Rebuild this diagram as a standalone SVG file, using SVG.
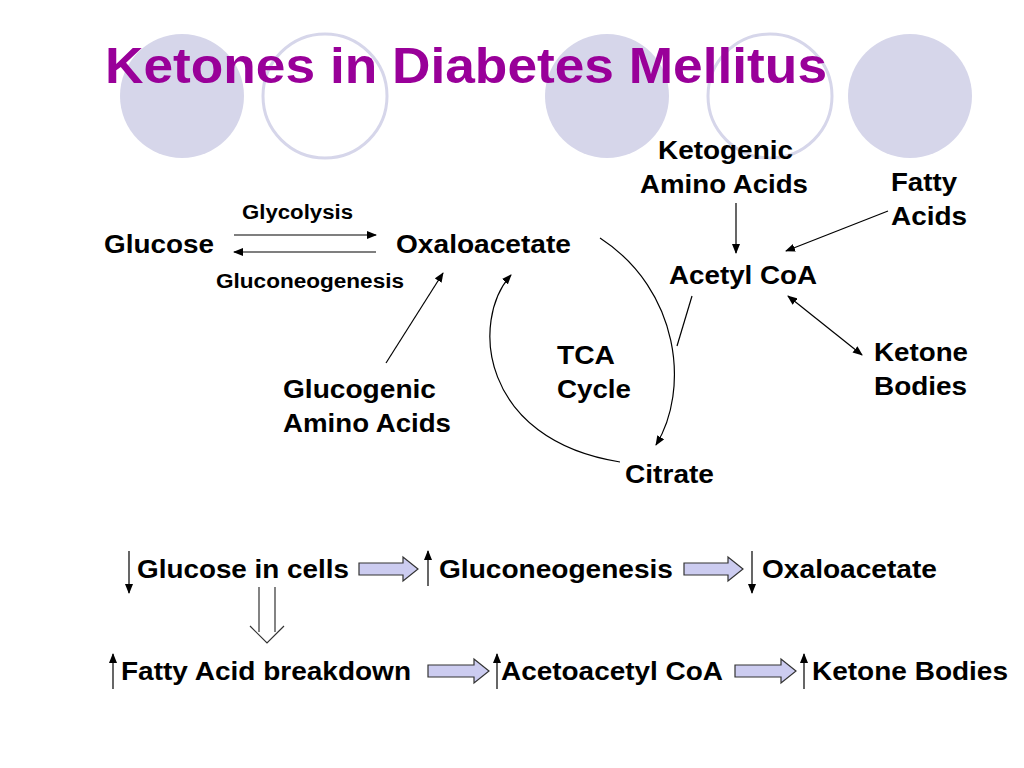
<svg xmlns="http://www.w3.org/2000/svg" width="1024" height="768" viewBox="0 0 1024 768">
<defs>
<style>
.t{font-family:"Liberation Sans",Arial,sans-serif;font-weight:bold;fill:#000}
.l{font-size:26px}.s{font-size:20px}
.c{stroke:#000;stroke-width:1.2;fill:none}
.ba{fill:#ccccf0;stroke:#333;stroke-width:1.2}
</style>
<marker id="a" markerWidth="10" markerHeight="8" refX="9" refY="4" orient="auto" markerUnits="userSpaceOnUse"><path d="M0,0 L10,4 L0,8 z" fill="#000"/></marker>
<marker id="as" markerWidth="10" markerHeight="8" refX="1" refY="4" orient="auto" markerUnits="userSpaceOnUse"><path d="M10,0 L0,4 L10,8 z" fill="#000"/></marker>
</defs>
<rect width="1024" height="768" fill="#fff"/>
<g id="bg">
<circle cx="182" cy="96" r="62" fill="#d6d6ea"/>
<circle cx="325" cy="96" r="62" fill="none" stroke="#d6d6ea" stroke-width="3"/>
<circle cx="607" cy="96" r="62" fill="#d6d6ea"/>
<circle cx="770" cy="96" r="62" fill="none" stroke="#d6d6ea" stroke-width="3"/>
<circle cx="910" cy="96" r="62" fill="#d6d6ea"/>
</g>
<text class="t" x="105" y="83" font-size="50" style="fill:#990099" textLength="722" lengthAdjust="spacingAndGlyphs">Ketones in Diabetes Mellitus</text>
<g id="n-glucose"><text class="t l" x="104" y="253" textLength="110" lengthAdjust="spacingAndGlyphs">Glucose</text></g>
<g id="n-oxa"><text class="t l" x="396" y="253" textLength="175" lengthAdjust="spacingAndGlyphs">Oxaloacetate</text></g>
<g id="l-glyco"><text class="t s" x="242" y="219" textLength="111" lengthAdjust="spacingAndGlyphs">Glycolysis</text></g>
<g id="l-gneo"><text class="t s" x="216" y="288" textLength="188" lengthAdjust="spacingAndGlyphs">Gluconeogenesis</text></g>
<g id="n-keto"><text class="t l" x="658" y="159" textLength="135" lengthAdjust="spacingAndGlyphs">Ketogenic</text><text class="t l" x="640" y="193" textLength="168" lengthAdjust="spacingAndGlyphs">Amino Acids</text></g>
<g id="n-fatty"><text class="t l" x="891" y="191" textLength="66" lengthAdjust="spacingAndGlyphs">Fatty</text><text class="t l" x="891" y="225" textLength="76" lengthAdjust="spacingAndGlyphs">Acids</text></g>
<g id="n-acetyl"><text class="t l" x="669" y="284" textLength="148" lengthAdjust="spacingAndGlyphs">Acetyl CoA</text></g>
<g id="n-ketone"><text class="t l" x="874" y="361" textLength="94" lengthAdjust="spacingAndGlyphs">Ketone</text><text class="t l" x="874" y="395" textLength="93" lengthAdjust="spacingAndGlyphs">Bodies</text></g>
<g id="n-tca"><text class="t l" x="557" y="364" textLength="58" lengthAdjust="spacingAndGlyphs">TCA</text><text class="t l" x="557" y="398" textLength="74" lengthAdjust="spacingAndGlyphs">Cycle</text></g>
<g id="n-glucogenic"><text class="t l" x="283" y="398" textLength="153" lengthAdjust="spacingAndGlyphs">Glucogenic</text><text class="t l" x="283" y="432" textLength="168" lengthAdjust="spacingAndGlyphs">Amino Acids</text></g>
<g id="n-citrate"><text class="t l" x="625" y="483" textLength="89" lengthAdjust="spacingAndGlyphs">Citrate</text></g>
<g id="connectors">
<line class="c" x1="234" y1="235" x2="376" y2="235" marker-end="url(#a)"/>
<line class="c" x1="376" y1="252" x2="234" y2="252" marker-end="url(#a)"/>
<line class="c" x1="386" y1="363" x2="443" y2="273" marker-end="url(#a)"/>
<line class="c" x1="736" y1="203" x2="736" y2="253" marker-end="url(#a)"/>
<line class="c" x1="888" y1="211" x2="786" y2="251" marker-end="url(#a)"/>
<line class="c" x1="788" y1="296" x2="862" y2="355" marker-start="url(#as)" marker-end="url(#a)"/>
<line class="c" x1="692" y1="296" x2="677" y2="346"/>
<path class="c" d="M600,238 C680,290 690,390 656,445" marker-end="url(#a)"/>
<path class="c" d="M620,462 C480,440 470,320 511,275" marker-end="url(#a)"/>
<line class="c" x1="129" y1="551" x2="129" y2="593" marker-end="url(#a)"/>
<line class="c" x1="428" y1="586" x2="428" y2="551" marker-end="url(#a)"/>
<line class="c" x1="752" y1="551" x2="752" y2="593" marker-end="url(#a)"/>
<line class="c" x1="113" y1="689" x2="113" y2="654" marker-end="url(#a)"/>
<line class="c" x1="497" y1="689" x2="497" y2="654" marker-end="url(#a)"/>
<line class="c" x1="804" y1="689" x2="804" y2="654" marker-end="url(#a)"/>
<path class="ba" d="M359,563 H403 V557 L418,569 L403,581 V575 H359 Z"/>
<path class="ba" d="M684,563 H728 V557 L743,569 L728,581 V575 H684 Z"/>
<path class="ba" d="M428,665 H474 V659 L489,671 L474,683 V677 H428 Z"/>
<path class="ba" d="M735,665 H781 V659 L796,671 L781,683 V677 H735 Z"/>
<path d="M259,587 V632 M275,587 V632 M250,626 L267,643 L284,626" fill="none" stroke="#333" stroke-width="1.2"/>
</g>
<g id="n-b1"><text class="t l" x="137" y="578" textLength="212" lengthAdjust="spacingAndGlyphs">Glucose in cells</text></g>
<g id="n-b2"><text class="t l" x="439" y="578" textLength="234" lengthAdjust="spacingAndGlyphs">Gluconeogenesis</text></g>
<g id="n-b3"><text class="t l" x="762" y="578" textLength="175" lengthAdjust="spacingAndGlyphs">Oxaloacetate</text></g>
<g id="n-b4"><text class="t l" x="121" y="680" textLength="290" lengthAdjust="spacingAndGlyphs">Fatty Acid breakdown</text></g>
<g id="n-b5"><text class="t l" x="501" y="680" textLength="222" lengthAdjust="spacingAndGlyphs">Acetoacetyl CoA</text></g>
<g id="n-b6"><text class="t l" x="812" y="680" textLength="196" lengthAdjust="spacingAndGlyphs">Ketone Bodies</text></g>
</svg>
